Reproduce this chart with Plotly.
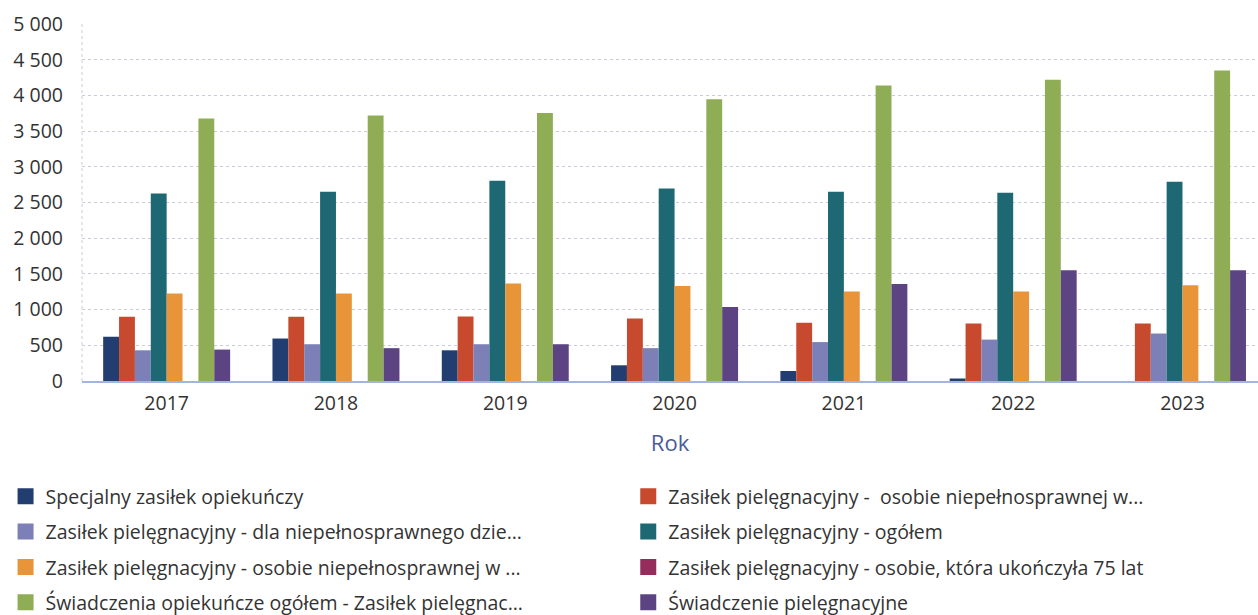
import plotly.graph_objects as go

years = ["2017", "2018", "2019", "2020", "2021", "2022", "2023"]

series_names = [
    "Specjalny zasiłek opiekuńczy",
    "Zasiłek pielęgnacyjny -  osobie niepełnosprawnej w...",
    "Zasiłek pielęgnacyjny - dla niepełnosprawnego dzie...",
    "Zasiłek pielęgnacyjny - ogółem",
    "Zasiłek pielęgnacyjny - osobie niepełnosprawnej w ...",
    "Zasiłek pielęgnacyjny - osobie, która ukończyła 75 lat",
    "Świadczenia opiekuńcze ogółem - Zasiłek pielęgnac...",
    "Świadczenie pielęgnacyjne",
]

specjalny = [620, 595, 430, 220, 140, 35, 0]
zp_niepeln_a = [900, 900, 905, 875, 815, 805, 805]
zp_dziecko = [430, 515, 515, 460, 545, 580, 665]
zp_ogolem = [2625, 2650, 2805, 2695, 2650, 2635, 2790]
zp_niepeln_b = [1225, 1225, 1365, 1330, 1255, 1255, 1340]
zp_75lat = [0, 0, 0, 0, 0, 0, 0]
swiadczenia_ogolem = [3675, 3720, 3755, 3945, 4140, 4220, 4350]
swiadczenie_piel = [440, 460, 515, 1035, 1360, 1550, 1550]

values = [specjalny, zp_niepeln_a, zp_dziecko, zp_ogolem,
          zp_niepeln_b, zp_75lat, swiadczenia_ogolem, swiadczenie_piel]

colors = ["#223e70", "#c84a2e", "#7c80b6", "#1e6874",
          "#e8953a", "#962c5c", "#8fad55", "#5c4482"]

FONT = "Open Sans"

fig = go.Figure()
for i, (name, vals) in enumerate(zip(series_names, values)):
    legend_id = "legend" if i % 2 == 0 else "legend2"
    fig.add_trace(go.Bar(
        x=years, y=vals, name=name,
        marker=dict(color=colors[i], line=dict(width=0)),
        legendgroup=f"g{i}", showlegend=False,
    ))
    # legend entry with a larger square swatch
    fig.add_trace(go.Scatter(
        x=[None], y=[None], name=name, mode="markers",
        marker=dict(symbol="square", size=16, color=colors[i]),
        legend=legend_id, legendgroup=f"g{i}", hoverinfo="skip",
    ))

legend_common = dict(
    orientation="v",
    yanchor="top", y=-0.269,
    xanchor="left",
    font=dict(family=FONT, size=19.5, color="#333333"),
    bgcolor="rgba(0,0,0,0)",
    tracegroupgap=7,
    itemwidth=30,
    itemsizing="trace",
)

fig.update_layout(
    width=1258, height=615,
    margin=dict(l=82, r=0, t=24, b=234, autoexpand=False),
    paper_bgcolor="white", plot_bgcolor="white",
    barmode="group", bargap=0.25, bargroupgap=0,
    separators=", ",
    font=dict(family=FONT, size=19.5, color="#333333"),
    showlegend=True,
    legend=dict(x=-0.065, **legend_common),
    legend2=dict(x=0.4645, **legend_common),
    xaxis=dict(
        range=[-0.5, 6.446],
        title=dict(text="Rok", font=dict(family=FONT, size=22, color="#4b5a98"), standoff=20),
        showline=True, linecolor="#a3b4e0", linewidth=2,
        ticks="", showgrid=False, ticklabelstandoff=4,
        tickfont=dict(family=FONT, size=19.5, color="#333333"),
    ),
    yaxis=dict(
        range=[0, 5000], dtick=500, tickformat=",d",
        showgrid=True, gridcolor="#c9cbdc", griddash="dot", gridwidth=1,
        zeroline=False, showline=False,
        ticks="", ticklabelstandoff=18,
        tickfont=dict(family=FONT, size=19.5, color="#333333"),
    ),
    shapes=[dict(
        type="line", xref="paper", yref="paper", x0=0, x1=0, y0=0, y1=1,
        line=dict(color="#c9cbdc", width=1, dash="dot"), layer="below",
    )],
)

fig.write_html("out.html")
